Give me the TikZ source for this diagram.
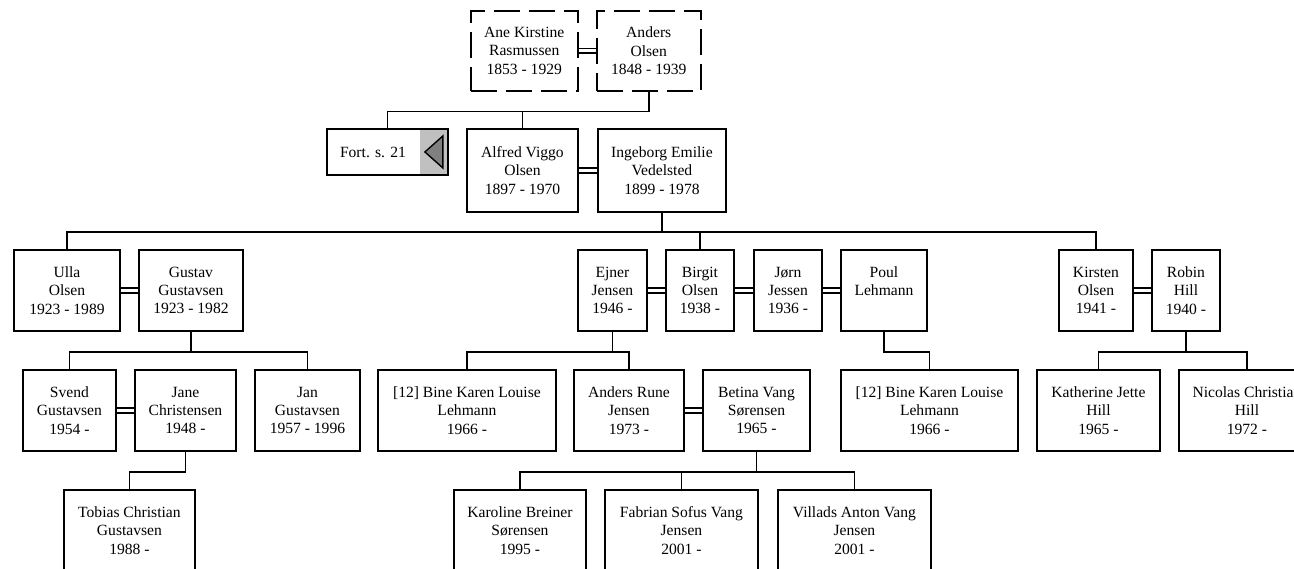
\documentclass[tikz,border=0pt]{standalone}
\usepackage{fontspec}
\setmainfont{Liberation Serif}
\usepackage{tikz}
\usetikzlibrary{backgrounds}
\definecolor{navgray}{RGB}{192,192,192}
\definecolor{navdark}{RGB}{128,128,128}

\begin{document}
\begin{tikzpicture}[x=1pt,y=-1pt,
  person/.style={draw,line width=1.9pt,align=center,inner sep=0pt,anchor=north west,
    font=\fontsize{15.6}{18.3}\selectfont},
  ghost/.style={person,line width=1.5pt,dash pattern=on 26pt off 9pt},
  line/.style={line width=1.6pt},
  marr/.style={double,double distance=3.2pt,line width=1.5pt}]
\useasboundingbox (0,0) rectangle (1294,568);
\clip (0,0) rectangle (1294,568);

% generation 1
\node[ghost,minimum width=107pt,minimum height=80pt] (ane) at (470,10) {Ane Kirstine\\Rasmussen\\1853 - 1929};
\node[ghost,minimum width=104pt,minimum height=80pt] (anders) at (596,10) {Anders\\Olsen\\1848 - 1939};

% generation 2
\node[person,minimum width=121pt,minimum height=46pt] (fort) at (326,128) {\makebox[92pt]{Fort. s. 21}\makebox[29pt]{}};
\node[person,minimum width=111pt,minimum height=83pt] (alfred) at (466,128) {Alfred Viggo\\Olsen\\1897 - 1970};
\node[person,minimum width=128pt,minimum height=83pt] (ingeborg) at (597,128) {Ingeborg Emilie\\Vedelsted\\1899 - 1978};

% generation 3
\node[person,minimum width=106pt,minimum height=81pt] (ulla) at (13,249) {Ulla\\Olsen\\1923 - 1989};
\node[person,minimum width=104pt,minimum height=81pt] (gustav) at (138,249) {Gustav\\Gustavsen\\1923 - 1982};
\node[person,minimum width=69pt,minimum height=81pt] (ejner) at (577,249) {Ejner\\Jensen\\1946 -};
\node[person,minimum width=68pt,minimum height=81pt] (birgit) at (665,249) {Birgit\\Olsen\\1938 -};
\node[person,minimum width=68pt,minimum height=81pt] (jorn) at (753,249) {Jørn\\Jessen\\1936 -};
\node[person,minimum width=86pt,minimum height=81pt] (poul) at (840,249) {Poul\\Lehmann\\\mbox{}};
\node[person,minimum width=74pt,minimum height=81pt] (kirsten) at (1058,249) {Kirsten\\Olsen\\1941 -};
\node[person,minimum width=68pt,minimum height=81pt] (robin) at (1151,249) {Robin\\Hill\\1940 -};

% generation 4
\node[person,minimum width=93pt,minimum height=81pt] (svend) at (22,369) {Svend\\Gustavsen\\1954 -};
\node[person,minimum width=101pt,minimum height=81pt] (jane) at (134,369) {Jane\\Christensen\\1948 -};
\node[person,minimum width=105pt,minimum height=81pt] (jan) at (254,369) {Jan\\Gustavsen\\1957 - 1996};
\node[person,minimum width=178pt,minimum height=81pt] (bineA) at (377,369) {[12] Bine Karen Louise\\Lehmann\\1966 -};
\node[person,minimum width=110pt,minimum height=81pt] (rune) at (573,369) {Anders Rune\\Jensen\\1973 -};
\node[person,minimum width=107pt,minimum height=81pt] (betina) at (702,369) {Betina Vang\\Sørensen\\1965 -};
\node[person,minimum width=177pt,minimum height=81pt] (bineB) at (840,369) {[12] Bine Karen Louise\\Lehmann\\1966 -};
\node[person,minimum width=123pt,minimum height=81pt] (katherine) at (1036,369) {Katherine Jette\\Hill\\1965 -};
\node[person,minimum width=136pt,minimum height=81pt] (nicolas) at (1178,369) {Nicolas Christian\\Hill\\1972 -};

% generation 5
\node[person,minimum width=131pt,minimum height=81pt] (tobias) at (63,489) {Tobias Christian\\Gustavsen\\1988 -};
\node[person,minimum width=132pt,minimum height=81pt] (karoline) at (453,489) {Karoline Breiner\\Sørensen\\1995 -};
\node[person,minimum width=153pt,minimum height=81pt] (fabrian) at (604,489) {Fabrian Sofus Vang\\Jensen\\2001 -};
\node[person,minimum width=153pt,minimum height=81pt] (villads) at (777,489) {Villads Anton Vang\\Jensen\\2001 -};

% back-reference button
\begin{scope}[on background layer]
\fill[navgray] ([xshift=-29pt]fort.north east) rectangle (fort.south east);
\end{scope}
\filldraw[fill=navdark,line width=1.4pt] ([xshift=-24pt]fort.east) -- ([xshift=-6pt,yshift=16pt]fort.east)
  -- ([xshift=-6pt,yshift=-16pt]fort.east) -- cycle;

% marriages
\draw[marr] (ane.east) -- (anders.west);
\draw[marr] (alfred.east) -- (ingeborg.west);
\draw[marr] (ulla.east) -- (gustav.west);
\draw[marr] (ejner.east) -- (birgit.west);
\draw[marr] (birgit.east) -- (jorn.west);
\draw[marr] (jorn.east) -- (poul.west);
\draw[marr] (kirsten.east) -- (robin.west);
\draw[marr] (svend.east) -- (jane.west);
\draw[marr] (rune.east) -- (betina.west);

% descent
\path (anders.south) ++(0,20) coordinate (busA);
\path (ingeborg.south) ++(0,19) coordinate (busB);
\path (gustav.south) ++(0,20) coordinate (busC);
\path (jane.south) ++(0,20) coordinate (busD);
\path (ejner.south) ++(0,20) coordinate (busE);
\path (poul.south) ++(0,20) coordinate (busF);
\path (robin.south) ++(0,20) coordinate (busG);
\path (betina.south) ++(0,20) coordinate (busH);

\draw[line] (anders.south) -- (busA) -| (fort.north);
\draw[line] (busA) -| (alfred.north);
\draw[line] (ingeborg.south) -- (busB) -| (ulla.north);
\draw[line] (busB) -| (birgit.north);
\draw[line] (busB) -| (kirsten.north);
\draw[line] (gustav.south) -- (busC) -| (svend.north);
\draw[line] (busC) -| (jan.north);
\draw[line] (jane.south) -- (busD) -| (tobias.north);
\draw[line] (ejner.south) -- (busE) -| (bineA.north);
\draw[line] (busE) -| (rune.north);
\draw[line] (poul.south) -- (busF) -| (bineB.north);
\draw[line] (robin.south) -- (busG) -| (katherine.north);
\draw[line] (busG) -| (nicolas.north);
\draw[line] (betina.south) -- (busH) -| (karoline.north);
\draw[line] (busH) -| (fabrian.north);
\draw[line] (busH) -| (villads.north);
\end{tikzpicture}
\end{document}
